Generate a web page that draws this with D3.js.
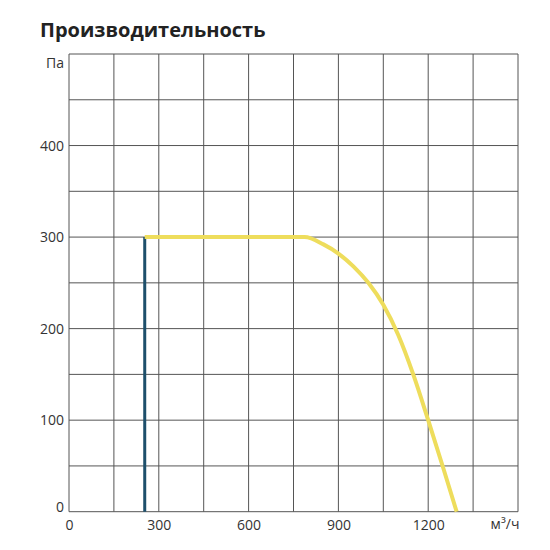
<!DOCTYPE html>
<html>
<head>
<meta charset="utf-8">
<script src="https://cdn.jsdelivr.net/npm/d3@7"></script>
<style>
  body { margin: 0; background: #fff; }
  svg text { font-family: "Open Sans", "Noto Sans", sans-serif; }
</style>
</head>
<body>
<div id="chart"></div>
<script>
// data
var xTicks = [0, 300, 600, 900, 1200];
var yTicks = [0, 100, 200, 300, 400];
var flowX = [253, 787, 850, 900, 950, 1000, 1050, 1100, 1150, 1200, 1250, 1295];
var pressY = [300, 300, 292, 282, 268, 250, 226, 193, 150, 100, 48, 0];
var minFlow = [253, 253];
var minPress = [0, 300];

var w = 550, h = 550;
var svg = d3.select('#chart').append('svg').attr('width', w).attr('height', h);

var x = d3.scaleLinear().domain([0, 1500]).range([69, 518]);
var y = d3.scaleLinear().domain([0, 500]).range([511.7, 54]);

// title
svg.append('text')
  .attr('x', 40).attr('y', 37)
  .attr('font-size', 20).attr('font-weight', 'bold')
  .attr('fill', '#222')
  .text('Производительность');

// grid
var grid = svg.append('g');
grid.selectAll('line.v').data(d3.range(0, 1501, 150)).enter().append('line')
  .attr('x1', function(d){ return x(d); }).attr('x2', function(d){ return x(d); })
  .attr('y1', y(0)).attr('y2', y(500))
  .attr('stroke', '#555').attr('stroke-width', 1);
grid.selectAll('line.h').data(d3.range(0, 501, 50)).enter().append('line')
  .attr('y1', function(d){ return y(d); }).attr('y2', function(d){ return y(d); })
  .attr('x1', x(0)).attr('x2', x(1500))
  .attr('stroke', '#555').attr('stroke-width', 1);

// axes labels
var xAxis = d3.axisBottom(x).tickValues(xTicks).tickFormat(d3.format('d')).tickSize(0).tickPadding(8);
var gx = svg.append('g').attr('transform', 'translate(0,' + y(0) + ')').call(xAxis);
gx.select('.domain').remove();
gx.selectAll('text').attr('font-size', 14).attr('fill', '#333')
  .attr('font-family', '"Open Sans", sans-serif');

var yAxis = d3.axisLeft(y).tickValues(yTicks).tickSize(0).tickPadding(5);
var gy = svg.append('g').attr('transform', 'translate(' + x(0) + ',0)').call(yAxis);
gy.select('.domain').remove();
gy.selectAll('text').attr('font-size', 14).attr('fill', '#333')
  .attr('font-family', '"Open Sans", sans-serif');
gy.selectAll('.tick').filter(function(d){ return d === 0; }).select('text').attr('dy', '-0.05em');

svg.append('text').attr('x', 64).attr('y', 68).attr('text-anchor', 'end')
  .attr('font-size', 14).attr('fill', '#333').text('Па');
svg.append('text').attr('x', 505).attr('y', 529).attr('text-anchor', 'middle')
  .attr('font-size', 14).attr('fill', '#333').text('м³/ч');

// min flow line
var line = d3.line().x(function(d){ return x(d[0]); }).y(function(d){ return y(d[1]); });
svg.append('path').datum(d3.zip(minFlow, minPress))
  .attr('d', line).attr('fill', 'none')
  .attr('stroke', '#1d4f6b').attr('stroke-width', 3);

// fan curve
var curve = d3.line().curve(d3.curveMonotoneX)
  .x(function(d){ return x(d[0]); }).y(function(d){ return y(d[1]); });
svg.append('path').datum(d3.zip(flowX, pressY))
  .attr('d', curve).attr('fill', 'none')
  .attr('stroke', '#eedd5c').attr('stroke-width', 4).attr('stroke-linecap', 'butt');
</script>
</body>
</html>
